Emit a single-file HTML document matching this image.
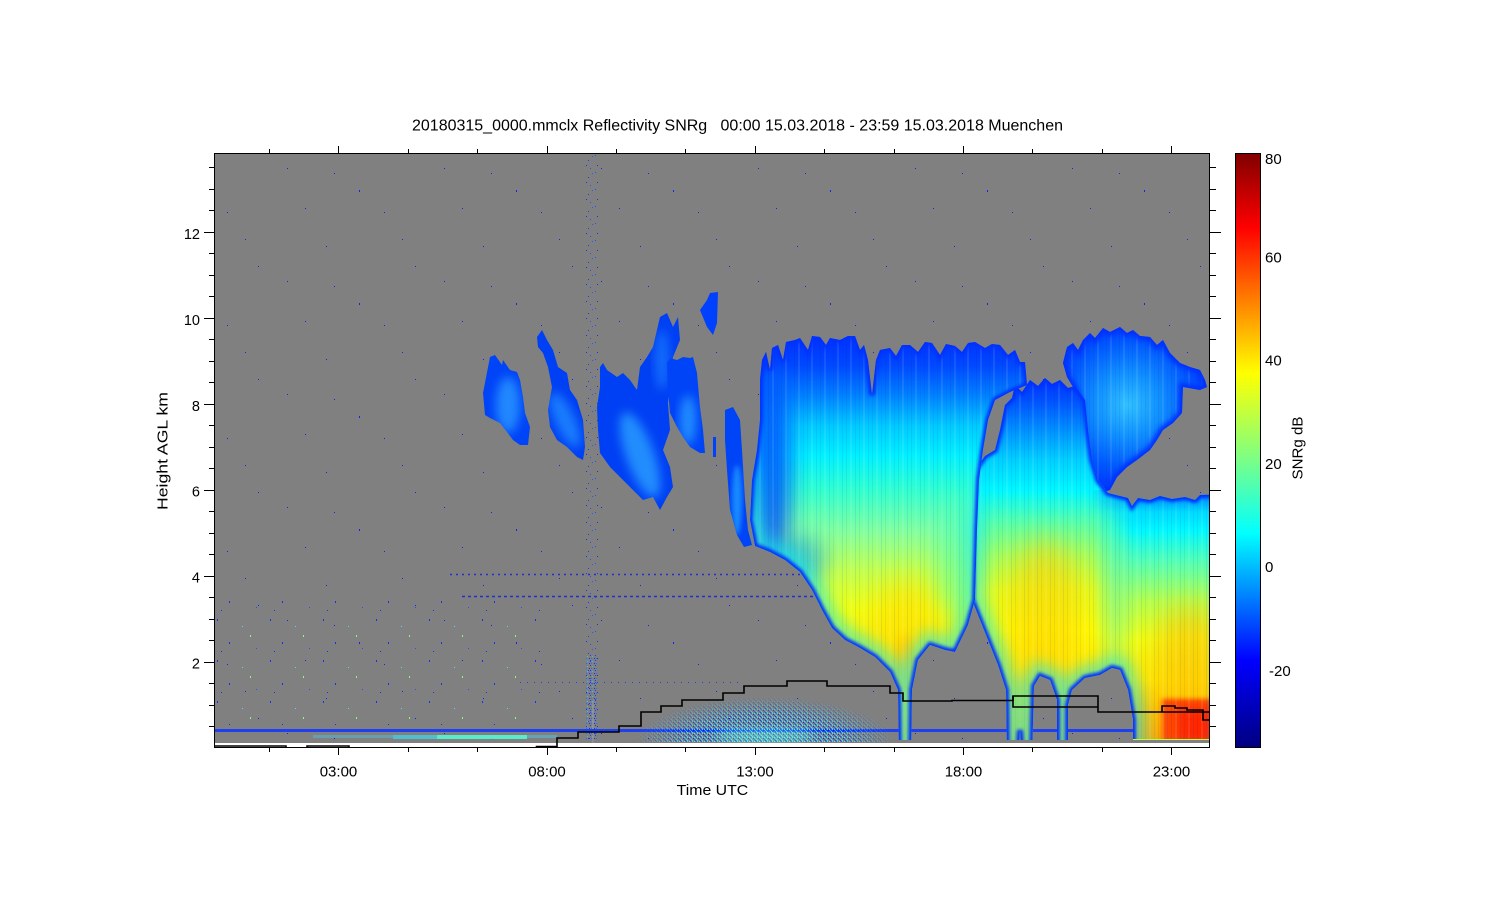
<!DOCTYPE html>
<html><head><meta charset="utf-8"><style>html,body{margin:0;padding:0;background:#fff}svg{display:block}text{font-family:"Liberation Sans",Arial,sans-serif;fill:#000}</style></head>
<body>
<svg width="1500" height="900" viewBox="0 0 1500 900" xmlns="http://www.w3.org/2000/svg">
<defs>
  <filter id="b1" x="-20%" y="-20%" width="140%" height="140%"><feGaussianBlur stdDeviation="1.5"/></filter>
  <filter id="b2" x="-20%" y="-20%" width="140%" height="140%"><feGaussianBlur stdDeviation="2.5"/></filter>
  <filter id="b5" x="-30%" y="-30%" width="160%" height="160%"><feGaussianBlur stdDeviation="5"/></filter>
  <filter id="b7" x="-30%" y="-30%" width="160%" height="160%"><feGaussianBlur stdDeviation="7"/></filter>
  <filter id="b10" x="-60%" y="-60%" width="220%" height="220%"><feGaussianBlur stdDeviation="10"/></filter>
  <filter id="b15" x="-80%" y="-80%" width="260%" height="260%"><feGaussianBlur stdDeviation="15"/></filter>

  <polygon id="C1" points="760,380 762,360 766,352 770,370 772,348 778,345 783,360 786,342 795,340 800,338 808,350 812,336 820,337 826,345 830,338 840,340 848,336 855,336 860,350 864,345 868,360 872,395 876,360 880,350 890,348 896,356 902,345 910,345 918,352 925,342 932,343 940,355 946,344 955,346 962,352 968,343 975,342 985,348 992,344 1000,345 1008,355 1015,350 1020,362 1025,362 1027,385 1010,392 995,400 988,420 983,450 979,480 977,530 975,600 968,625 955,652 945,650 930,645 918,660 912,690 911,760 899,760 898,690 890,672 875,657 860,648 845,640 832,628 822,610 812,590 800,572 785,560 770,552 755,546 750,520 752,480 757,450 760,420"/>
  <polygon id="C2" points="975,470 985,456 995,450 1000,430 1005,405 1012,398 1015,385 1022,392 1030,380 1038,386 1045,378 1052,384 1060,380 1068,388 1075,386 1085,400 1088,430 1092,460 1098,480 1108,493 1120,496 1128,498 1132,506 1138,498 1150,500 1160,496 1172,499 1185,497 1195,500 1200,495 1230,494 1230,760 1133,760 1133,720 1128,690 1120,670 1112,668 1100,675 1085,678 1072,690 1068,705 1068,760 1057,760 1057,700 1050,680 1040,676 1034,686 1032,760 1022,760 1020,730 1018,760 1007,760 1006,690 998,665 990,645 982,625 972,600 972,530"/>
  <polygon id="C3" points="1063,363 1067,347 1073,343 1078,350 1083,340 1090,333 1095,338 1103,328 1110,332 1120,327 1127,333 1133,330 1140,336 1150,337 1157,345 1163,340 1170,353 1180,363 1190,367 1200,370 1205,380 1207,387 1200,390 1183,387 1182,413 1173,423 1163,430 1157,440 1150,450 1137,460 1127,467 1117,477 1110,490 1100,493 1090,480 1083,460 1080,437 1080,403 1073,387 1067,377"/>
  <polygon id="CA" points="483,393 490,357 495,355 502,365 503,360 510,370 517,372 520,380 523,397 525,413 530,427 528,445 520,445 513,440 507,432 500,423 490,418 485,415"/>
  <polygon id="CB" points="537,337 542,330 547,340 553,350 558,367 567,373 570,390 577,400 583,420 585,447 583,460 577,457 567,447 557,440 550,427 548,410 552,387 548,367 543,353 538,347"/>
  <polygon id="CC" points="600,367 603,363 607,370 617,377 623,373 630,380 637,390 640,367 647,357 653,347 660,317 667,313 673,327 678,317 680,340 673,357 670,380 668,403 670,430 663,450 670,467 673,487 667,497 660,510 653,497 643,500 633,490 620,477 610,467 600,453 598,430 597,407 600,387"/>
  <polygon id="CD" points="667,363 670,358 677,360 683,357 690,358 693,357 697,373 700,407 703,430 705,453 700,453 690,447 683,437 677,427 670,413 668,390"/>
  <polygon id="CE" points="700,310 707,300 710,293 718,292 717,323 713,335 707,327"/>
  <polygon id="CF" points="725,410 733,407 740,420 742,450 745,500 748,530 752,545 744,547 737,535 730,510 727,470 725,440"/>

  <clipPath id="plotclip"><rect x="215" y="154" width="994" height="589"/></clipPath>
  <clipPath id="dataclip"><rect x="215" y="154" width="994" height="586"/></clipPath>
  <clipPath id="k1"><use href="#C1"/></clipPath>
  <clipPath id="k2"><use href="#C2"/></clipPath>
  <clipPath id="k3"><use href="#C3"/></clipPath>
  <clipPath id="kA"><use href="#CA"/></clipPath>
  <clipPath id="kB"><use href="#CB"/></clipPath>
  <clipPath id="kC"><use href="#CC"/></clipPath>
  <clipPath id="kD"><use href="#CD"/></clipPath>
  <clipPath id="kF"><use href="#CF"/></clipPath>

  <linearGradient id="g1" gradientUnits="userSpaceOnUse" x1="0" y1="336" x2="0" y2="740">
    <stop offset="0" stop-color="#0030ff"/><stop offset="0.072" stop-color="#0048ff"/>
    <stop offset="0.146" stop-color="#0080ff"/><stop offset="0.22" stop-color="#00c8ff"/>
    <stop offset="0.295" stop-color="#00f0ff"/><stop offset="0.381" stop-color="#30ffd0"/>
    <stop offset="0.48" stop-color="#80ffa0"/><stop offset="0.579" stop-color="#c0ff50"/>
    <stop offset="0.678" stop-color="#f0ff10"/><stop offset="0.802" stop-color="#ffee00"/>
    <stop offset="1" stop-color="#ffd000"/>
  </linearGradient>
  <linearGradient id="g2" gradientUnits="userSpaceOnUse" x1="0" y1="378" x2="0" y2="740">
    <stop offset="0" stop-color="#0030ff"/><stop offset="0.06" stop-color="#0050ff"/>
    <stop offset="0.144" stop-color="#0090ff"/><stop offset="0.227" stop-color="#00d0ff"/>
    <stop offset="0.31" stop-color="#00f8ff"/><stop offset="0.392" stop-color="#50ffb0"/>
    <stop offset="0.489" stop-color="#a0ff60"/><stop offset="0.586" stop-color="#e0ff20"/>
    <stop offset="0.696" stop-color="#ffff00"/><stop offset="0.834" stop-color="#ffe000"/>
    <stop offset="1" stop-color="#ffc800"/>
  </linearGradient>
  <linearGradient id="g3" gradientUnits="userSpaceOnUse" x1="0" y1="494" x2="0" y2="740">
    <stop offset="0" stop-color="#0040ff"/><stop offset="0.033" stop-color="#0090ff"/>
    <stop offset="0.073" stop-color="#00d8ff"/><stop offset="0.146" stop-color="#00f8ff"/>
    <stop offset="0.268" stop-color="#50ffb8"/><stop offset="0.431" stop-color="#b0ff50"/>
    <stop offset="0.593" stop-color="#f0ff10"/><stop offset="0.756" stop-color="#ffe800"/>
    <stop offset="0.878" stop-color="#ffc000"/><stop offset="1" stop-color="#ffa800"/>
  </linearGradient>
  <radialGradient id="g4" gradientUnits="userSpaceOnUse" cx="1128" cy="405" r="80">
    <stop offset="0" stop-color="#30c0ff"/><stop offset="0.4" stop-color="#1090ff"/>
    <stop offset="0.8" stop-color="#0058ff"/><stop offset="1" stop-color="#0040ff"/>
  </radialGradient>
  <linearGradient id="cbar" x1="0" y1="1" x2="0" y2="0">
    <stop offset="0" stop-color="#000080"/><stop offset="0.146" stop-color="#0000ff"/>
    <stop offset="0.36" stop-color="#00ffff"/><stop offset="0.49" stop-color="#80ff80"/>
    <stop offset="0.63" stop-color="#ffff00"/><stop offset="0.875" stop-color="#ff0000"/>
    <stop offset="1" stop-color="#800000"/>
  </linearGradient>
  <linearGradient id="lowgrad" gradientUnits="userSpaceOnUse" x1="0" y1="455" x2="0" y2="530">
    <stop offset="0" stop-color="#000"/><stop offset="1" stop-color="#fff"/>
  </linearGradient>
  <mask id="lowmask" maskUnits="userSpaceOnUse" x="0" y="0" width="1500" height="900">
    <rect x="0" y="0" width="1500" height="900" fill="url(#lowgrad)"/>
  </mask>
  <linearGradient id="hgrad" gradientUnits="userSpaceOnUse" x1="1092" y1="0" x2="1135" y2="0">
    <stop offset="0" stop-color="#000"/><stop offset="1" stop-color="#fff"/>
  </linearGradient>
  <mask id="hmask" maskUnits="userSpaceOnUse" x="0" y="0" width="1500" height="900">
    <rect x="0" y="0" width="1500" height="900" fill="url(#hgrad)"/>
  </mask>
  <radialGradient id="densegrad" gradientUnits="userSpaceOnUse" cx="765" cy="742" r="130" gradientTransform="translate(765 742) scale(1 0.35) translate(-765 -742)">
    <stop offset="0" stop-color="#fff"/><stop offset="0.6" stop-color="#ccc"/><stop offset="1" stop-color="#000"/>
  </radialGradient>
  <mask id="densemask" maskUnits="userSpaceOnUse" x="0" y="0" width="1500" height="900">
    <rect x="0" y="0" width="1500" height="900" fill="url(#densegrad)"/>
  </mask>

  <pattern id="noise" patternUnits="userSpaceOnUse" x="0" y="0" width="157" height="113">
    <rect x="12" y="20" width="1" height="1" fill="#1020ff"/>
    <rect x="45" y="77" width="1" height="2" fill="#1020ff"/>
    <rect x="88" y="13" width="1" height="1" fill="#1020ff"/>
    <rect x="130" y="55" width="1" height="1" fill="#1020ff"/>
    <rect x="70" y="99" width="1" height="1" fill="#1020ff"/>
    <rect x="101" y="40" width="1" height="1" fill="#1020ff"/>
    <rect x="20" y="60" width="1" height="1" fill="#1020ff"/>
    <rect x="148" y="95" width="1" height="1" fill="#1020ff"/>
  </pattern>
  <pattern id="noise2" patternUnits="userSpaceOnUse" x="0" y="0" width="53" height="41">
    <rect x="5" y="4" width="1" height="2" fill="#1030ff"/>
    <rect x="30" y="11" width="1" height="1" fill="#40e0ff"/>
    <rect x="17" y="27" width="1" height="2" fill="#1030ff"/>
    <rect x="44" y="33" width="1" height="1" fill="#2050ff"/>
    <rect x="38" y="20" width="1" height="2" fill="#80ff80"/>
    <rect x="9" y="36" width="1" height="1" fill="#1030ff"/>
  </pattern>
  <pattern id="col" patternUnits="userSpaceOnUse" x="0" y="0" width="11" height="17">
    <rect x="1" y="2" width="1" height="1" fill="#2050ff"/>
    <rect x="5" y="7" width="1" height="1" fill="#1040ff"/>
    <rect x="9" y="3" width="1" height="1" fill="#2060ff"/>
    <rect x="3" y="12" width="1" height="1" fill="#1030ff"/>
    <rect x="7" y="15" width="1" height="1" fill="#2050ff"/>
  </pattern>
  <pattern id="col2" patternUnits="userSpaceOnUse" x="0" y="0" width="5" height="5">
    <rect x="0" y="0" width="1" height="1" fill="#1040ff"/>
    <rect x="2" y="1" width="1" height="1" fill="#30c0ff"/>
    <rect x="4" y="3" width="1" height="1" fill="#1030ff"/>
    <rect x="1" y="3" width="1" height="1" fill="#2070ff"/>
  </pattern>
  <pattern id="dense" patternUnits="userSpaceOnUse" x="0" y="0" width="5" height="4">
    <rect x="0" y="0" width="1" height="1" fill="#0a30ff"/>
    <rect x="2" y="0" width="1" height="2" fill="#40e8ff"/>
    <rect x="1" y="1" width="1" height="1" fill="#1060ff"/>
    <rect x="4" y="1" width="1" height="1" fill="#60ffd0"/>
    <rect x="0" y="2" width="1" height="1" fill="#30c8ff"/>
    <rect x="3" y="2" width="1" height="1" fill="#0020e0"/>
    <rect x="1" y="3" width="1" height="1" fill="#50f0ff"/>
    <rect x="4" y="3" width="1" height="1" fill="#2050ff"/>
  </pattern>
  <pattern id="streak" patternUnits="userSpaceOnUse" x="0" y="0" width="13" height="40">
    <rect x="1" y="0" width="1" height="40" fill="#000" opacity="0.06"/>
    <rect x="5" y="0" width="2" height="40" fill="#fff" opacity="0.09"/>
    <rect x="10" y="0" width="1" height="40" fill="#0040ff" opacity="0.1"/>
  </pattern>
</defs>

<rect x="0" y="0" width="1500" height="900" fill="#fff"/>

<text x="412" y="130.5" font-size="15.5" textLength="651" lengthAdjust="spacingAndGlyphs" style="white-space:pre">20180315_0000.mmclx Reflectivity SNRg   00:00 15.03.2018 - 23:59 15.03.2018 Muenchen</text>

<g clip-path="url(#plotclip)">
  <rect x="215" y="154" width="994" height="589" fill="#808080"/>
  <rect x="215" y="154" width="994" height="586" fill="url(#noise)"/>
  <rect x="215" y="600" width="330" height="125" fill="url(#noise2)"/>
  <rect x="585" y="154" width="13" height="586" fill="url(#col)"/>
  <rect x="586" y="655" width="11" height="85" fill="url(#col2)"/>
  <rect x="592.5" y="700" width="1" height="48" fill="#9a9a9a"/>
  <line x1="450" y1="574.5" x2="815" y2="574.5" stroke="#2030d0" stroke-width="1.5" stroke-dasharray="2 4"/>
  <line x1="462" y1="596.5" x2="815" y2="596.5" stroke="#2030d0" stroke-width="1.5" stroke-dasharray="3 3"/>
  <line x1="520" y1="682.5" x2="740" y2="682.5" stroke="#2040e0" stroke-width="1" stroke-dasharray="1 6"/>
  <rect x="215" y="729" width="994" height="3" fill="#1e40f0"/>
  <rect x="313" y="735" width="80" height="3" fill="#40d8ff" opacity="0.35"/>
  <rect x="393" y="735" width="44" height="4" fill="#30e8ff" opacity="0.6"/>
  <rect x="437" y="735" width="90" height="4" fill="#50ffd8" opacity="0.85"/>
  <rect x="527" y="735" width="30" height="3" fill="#40d8ff" opacity="0.4"/>
  <rect x="620" y="690" width="290" height="52" fill="url(#dense)" mask="url(#densemask)"/>
  <ellipse cx="765" cy="736" rx="50" ry="7" fill="#70ffe0" opacity="0.45" filter="url(#b5)"/>

  <g clip-path="url(#dataclip)">
    <use href="#CE" fill="#0040ff"/>
    <g clip-path="url(#kA)">
      <rect x="470" y="340" width="80" height="120" fill="#0044f8"/>
      <ellipse cx="508" cy="405" rx="12" ry="28" fill="#2a9aff" opacity="0.8" filter="url(#b5)"/>
    </g>
    <g clip-path="url(#kB)">
      <rect x="530" y="320" width="70" height="150" fill="#0040f4"/>
      <ellipse cx="565" cy="420" rx="10" ry="30" fill="#2090ff" opacity="0.75" filter="url(#b5)" transform="rotate(-25 565 420)"/>
    </g>
    <g clip-path="url(#kC)">
      <rect x="590" y="300" width="100" height="220" fill="#0040f4"/>
      <ellipse cx="640" cy="455" rx="14" ry="45" fill="#2aa0ff" opacity="0.8" filter="url(#b5)" transform="rotate(-20 640 455)"/>
      <ellipse cx="662" cy="360" rx="7" ry="30" fill="#1a80ff" opacity="0.7" filter="url(#b5)"/>
    </g>
    <g clip-path="url(#kD)">
      <rect x="660" y="350" width="50" height="110" fill="#0044f8"/>
      <ellipse cx="688" cy="420" rx="8" ry="25" fill="#2aa0ff" opacity="0.8" filter="url(#b5)"/>
    </g>
    <g clip-path="url(#kF)">
      <rect x="720" y="400" width="40" height="150" fill="#0044f8"/>
      <ellipse cx="737" cy="500" rx="5" ry="35" fill="#20a8ff" opacity="0.7" filter="url(#b2)"/>
    </g>
    <rect x="713" y="437" width="3" height="20" fill="#0040ff"/>

    <g clip-path="url(#k3)">
      <rect x="1055" y="320" width="160" height="180" fill="url(#g4)"/>
      <rect x="1055" y="320" width="160" height="180" fill="url(#streak)"/>
      <use href="#C3" fill="none" stroke="#0030ff" stroke-width="8" filter="url(#b2)"/>
    </g>

    <g clip-path="url(#k2)">
      <rect x="965" y="370" width="265" height="380" fill="url(#g2)"/>
      <rect x="1080" y="490" width="150" height="260" fill="url(#g3)" mask="url(#hmask)"/>
      <ellipse cx="1045" cy="610" rx="38" ry="70" fill="#ffd000" opacity="0.6" filter="url(#b15)"/>
      <ellipse cx="1115" cy="600" rx="10" ry="70" fill="#30f0e0" opacity="0.45" filter="url(#b10)"/>
      <ellipse cx="1190" cy="655" rx="35" ry="50" fill="#ffb000" opacity="0.5" filter="url(#b15)"/>
      <rect x="1162" y="699" width="60" height="50" fill="#ff4a00" filter="url(#b2)"/>
      <rect x="1178" y="708" width="40" height="40" fill="#ff2800" filter="url(#b5)"/>
      <rect x="965" y="370" width="265" height="380" fill="url(#streak)"/>
      <use href="#C2" fill="none" stroke="#00e8ff" stroke-width="26" opacity="0.5" filter="url(#b7)" mask="url(#lowmask)"/>
      <use href="#C2" fill="none" stroke="#0030ff" stroke-width="6" filter="url(#b1)"/>
    </g>

    <g clip-path="url(#k1)">
      <rect x="745" y="330" width="290" height="420" fill="url(#g1)"/>
      <ellipse cx="772" cy="470" rx="18" ry="100" fill="#0050ff" opacity="0.85" filter="url(#b10)"/>
      <ellipse cx="800" cy="560" rx="25" ry="25" fill="#00a0ff" opacity="0.55" filter="url(#b10)"/>
      <ellipse cx="905" cy="640" rx="38" ry="60" fill="#ffe000" opacity="0.7" filter="url(#b15)"/>
      <ellipse cx="905" cy="665" rx="12" ry="30" fill="#ffc000" opacity="0.55" filter="url(#b5)"/>
      <ellipse cx="955" cy="560" rx="18" ry="60" fill="#40ffc0" opacity="0.45" filter="url(#b10)"/>
      <rect x="745" y="330" width="290" height="420" fill="url(#streak)"/>
      <use href="#C1" fill="none" stroke="#00e8ff" stroke-width="26" opacity="0.5" filter="url(#b7)" mask="url(#lowmask)"/>
      <use href="#C1" fill="none" stroke="#0030ff" stroke-width="6" filter="url(#b1)"/>
    </g>
    <rect x="1133" y="739" width="77" height="1.2" fill="#c0ff40"/>
  </g>
</g>

<rect x="215" y="743" width="994" height="4.5" fill="#fff"/>

<g fill="none" stroke="#000" stroke-width="1.6">
  <path d="M214,746 H286 V748 M307,748 V746 H349 V748 M536.5,748 V746.5 H557 V738 H578 V732 H619 V726 H641 V712 H661 V706 H682 V700 H723 V693 H744 V686 H787 V681 H827 V686 H890 V693 H903 V701 H952 V700.5 H1013 V696 H1098 V712 H1210"/>
  <path d="M1013,696 V707 H1098"/>
  <path d="M1162,712 V706 H1175 V708 H1187 V710 H1203 V720 H1210"/>
</g>

<rect x="214.5" y="153.5" width="995" height="594" fill="none" stroke="#000" stroke-width="1"/>

<g stroke="#000" stroke-width="1" fill="none">
  <path d="M269.5,748 V752 M338.5,748 V755 M408.5,748 V752 M477.5,748 V752 M547.5,748 V755 M616.5,748 V752 M685.5,748 V752 M755.5,748 V755 M824.5,748 V752 M894.5,748 V752 M963.5,748 V755 M1032.5,748 V752 M1102.5,748 V752 M1171.5,748 V755"/>
  <path d="M269.5,153 V149 M338.5,153 V146 M408.5,153 V149 M477.5,153 V149 M547.5,153 V146 M616.5,153 V149 M685.5,153 V149 M755.5,153 V146 M824.5,153 V149 M894.5,153 V149 M963.5,153 V146 M1032.5,153 V149 M1102.5,153 V149 M1171.5,153 V146"/>
  <path d="M209,726.5 H214 M209,705.5 H214 M209,683.5 H214 M204,662.5 H214 M209,640.5 H214 M209,619.5 H214 M209,597.5 H214 M204,576.5 H214 M209,554.5 H214 M209,533.5 H214 M209,511.5 H214 M204,490.5 H214 M209,468.5 H214 M209,447.5 H214 M209,425.5 H214 M204,404.5 H214 M209,382.5 H214 M209,361.5 H214 M209,339.5 H214 M204,318.5 H214 M209,296.5 H214 M209,275.5 H214 M209,253.5 H214 M204,232.5 H214 M209,210.5 H214 M209,189.5 H214 M209,167.5 H214"/>
  <path d="M1210,726.5 H1216 M1210,705.5 H1216 M1210,683.5 H1216 M1210,662.5 H1221 M1210,640.5 H1216 M1210,619.5 H1216 M1210,597.5 H1216 M1210,576.5 H1221 M1210,554.5 H1216 M1210,533.5 H1216 M1210,511.5 H1216 M1210,490.5 H1221 M1210,468.5 H1216 M1210,447.5 H1216 M1210,425.5 H1216 M1210,404.5 H1221 M1210,382.5 H1216 M1210,361.5 H1216 M1210,339.5 H1216 M1210,318.5 H1221 M1210,296.5 H1216 M1210,275.5 H1216 M1210,253.5 H1216 M1210,232.5 H1221 M1210,210.5 H1216 M1210,189.5 H1216 M1210,167.5 H1216"/>
</g>

<g font-size="15" text-anchor="middle">
  <text x="338.5" y="776.5">03:00</text>
  <text x="547" y="776.5">08:00</text>
  <text x="755" y="776.5">13:00</text>
  <text x="963.5" y="776.5">18:00</text>
  <text x="1171.5" y="776.5">23:00</text>
</g>
<text x="676.7" y="795" font-size="15" textLength="71.5" lengthAdjust="spacingAndGlyphs">Time UTC</text>

<g font-size="14.5" text-anchor="end">
  <text x="200" y="668.6">2</text>
  <text x="200" y="582.7">4</text>
  <text x="200" y="496.7">6</text>
  <text x="200" y="410.8">8</text>
  <text x="200" y="324.9">10</text>
  <text x="200" y="239">12</text>
</g>
<text transform="translate(167.5,451) rotate(-90)" font-size="15" text-anchor="middle" textLength="118" lengthAdjust="spacingAndGlyphs">Height AGL km</text>

<rect x="1235.5" y="153.5" width="25" height="594" fill="url(#cbar)" stroke="#000" stroke-width="1"/>
<g font-size="15">
  <text x="1265" y="164">80</text>
  <text x="1265" y="262.7">60</text>
  <text x="1265" y="365.7">40</text>
  <text x="1265" y="469">20</text>
  <text x="1265" y="572">0</text>
  <text x="1269" y="676">-20</text>
</g>
<text transform="translate(1302.5,448) rotate(-90)" font-size="15" text-anchor="middle" textLength="63" lengthAdjust="spacingAndGlyphs">SNRg dB</text>
</svg>
</body></html>
